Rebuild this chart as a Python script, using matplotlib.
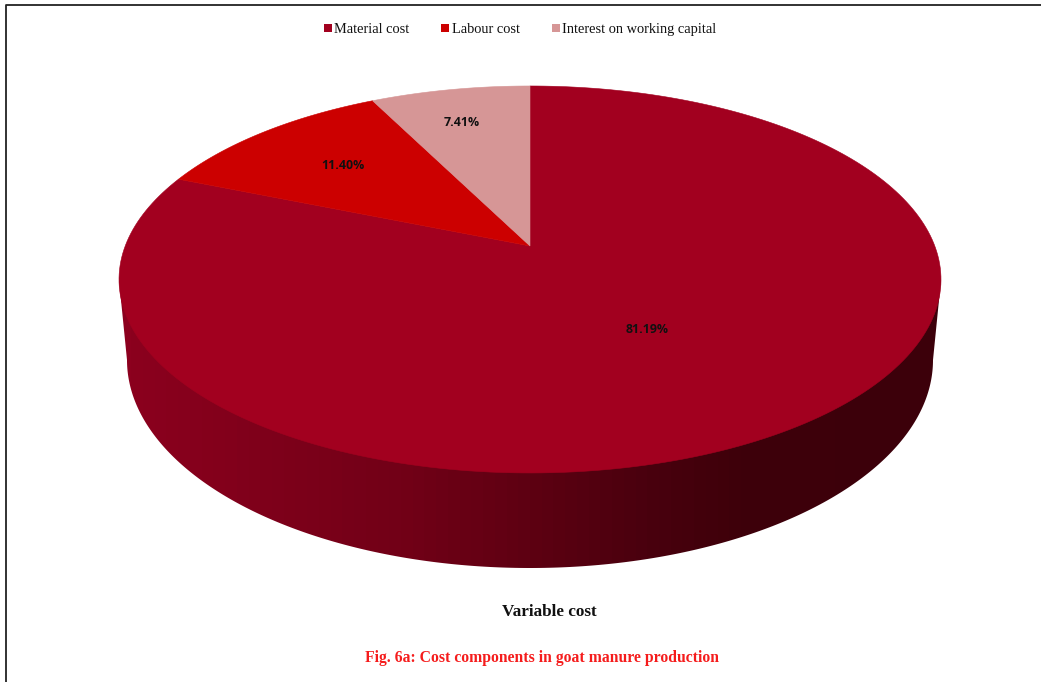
import numpy as np
import matplotlib
matplotlib.use("Agg")
import matplotlib.pyplot as plt
from matplotlib.colors import LinearSegmentedColormap
from matplotlib.patches import Polygon, Rectangle

labels = ["Material cost", "Labour cost", "Interest on working capital"]
shares = [81.19, 11.40, 7.41]
colors = ["#a2001f", "#cc0000", "#d69696"]
share_text = ["81.19%", "11.40%", "7.41%"]

# side wall colour, left to right
wall_stops = [0.0, 0.34, 0.5, 0.64, 0.76, 1.0]
wall_colors = ["#8c001e", "#720017", "#5e0012", "#4a000e", "#3e000a", "#3c000a"]

W, H = 1041, 682
fig = plt.figure(figsize=(W / 100, H / 100), dpi=100, facecolor="white")
ax = fig.add_axes([0, 0, 1, 1])
ax.axis("off")

cx, cy = 530, 246
A, B, k = 404.8, 187.7, 0.173


def project(theta):
    # circle seen in perspective, theta clockwise from the back of the pie
    u, v = np.sin(theta), np.cos(theta)
    d = 1 + k * v
    return cx + A * u / d, cy - B * v / d


# frame
ax.plot([6, 6, W + 5], [H + 5, 5, 5], color="#222222", lw=1.3)

# side wall: gradient clipped to the outline of the lower rim
t_top = np.linspace(0, 2 * np.pi, 720)
x_top, y_top = project(t_top)
phi = np.linspace(0, np.pi, 300)
x_low = 530 + 403 * np.cos(phi)
y_low = 360 + 208 * np.sin(phi)
right = np.argmax(x_top)
left = np.argmin(x_top)
outline = np.r_[[[x_top[right], y_top[right]]], np.c_[x_low, y_low],
                [[x_top[left], y_top[left]]]]
wall_cmap = LinearSegmentedColormap.from_list("wall", list(zip(wall_stops, wall_colors)), N=70)
grad = ax.imshow(np.linspace(0, 1, 822)[None, :], extent=(119, 941, 600, 250),
                 cmap=wall_cmap, aspect="auto", interpolation="nearest", zorder=2)
clip = Polygon(outline, transform=ax.transData, facecolor="none", edgecolor="none")
ax.add_patch(clip)
grad.set_clip_path(clip)

# top face, clockwise from 12 o'clock
start = 0.0
for share, col in zip(shares, colors):
    sweep = share / sum(shares) * 2 * np.pi
    t = np.linspace(start, start + sweep, 240)
    xs, ys = project(t)
    ax.add_patch(Polygon(np.r_[[[cx, cy]], np.c_[xs, ys]], facecolor=col,
                         edgecolor=col, lw=0.4, zorder=3))
    start += sweep

# value labels
label_pos = [(647, 329.5), (343, 165.5), (462, 122.5)]
for txt, (lx, ly) in zip(share_text, label_pos):
    ax.text(lx, ly, txt, ha="center", va="center", fontsize=8.9,
            fontweight="bold", family="Open Sans", color="#111111", zorder=4)

# legend
key_x = [324, 441, 552]
text_x = [334, 452, 562]
for name, col, kx, tx in zip(labels, colors, key_x, text_x):
    ax.add_patch(Rectangle((kx, 24), 8, 8, facecolor=col, edgecolor="none"))
    ax.text(tx, 33, name, ha="left", va="baseline", fontsize=10.35,
            family="Liberation Serif", color="#111111")

ax.text(549.5, 616, "Variable cost", ha="center", va="baseline", fontsize=12.3,
        fontweight="bold", family="Liberation Serif", color="#111111")
ax.text(542, 662, "Fig. 6a: Cost components in goat manure production", ha="center",
        va="baseline", fontsize=11.3, fontweight="bold", family="Liberation Serif",
        color="#f51c1c")

ax.set_xlim(0, W)
ax.set_ylim(H, 0)

fig.savefig("out.png", dpi=100)
